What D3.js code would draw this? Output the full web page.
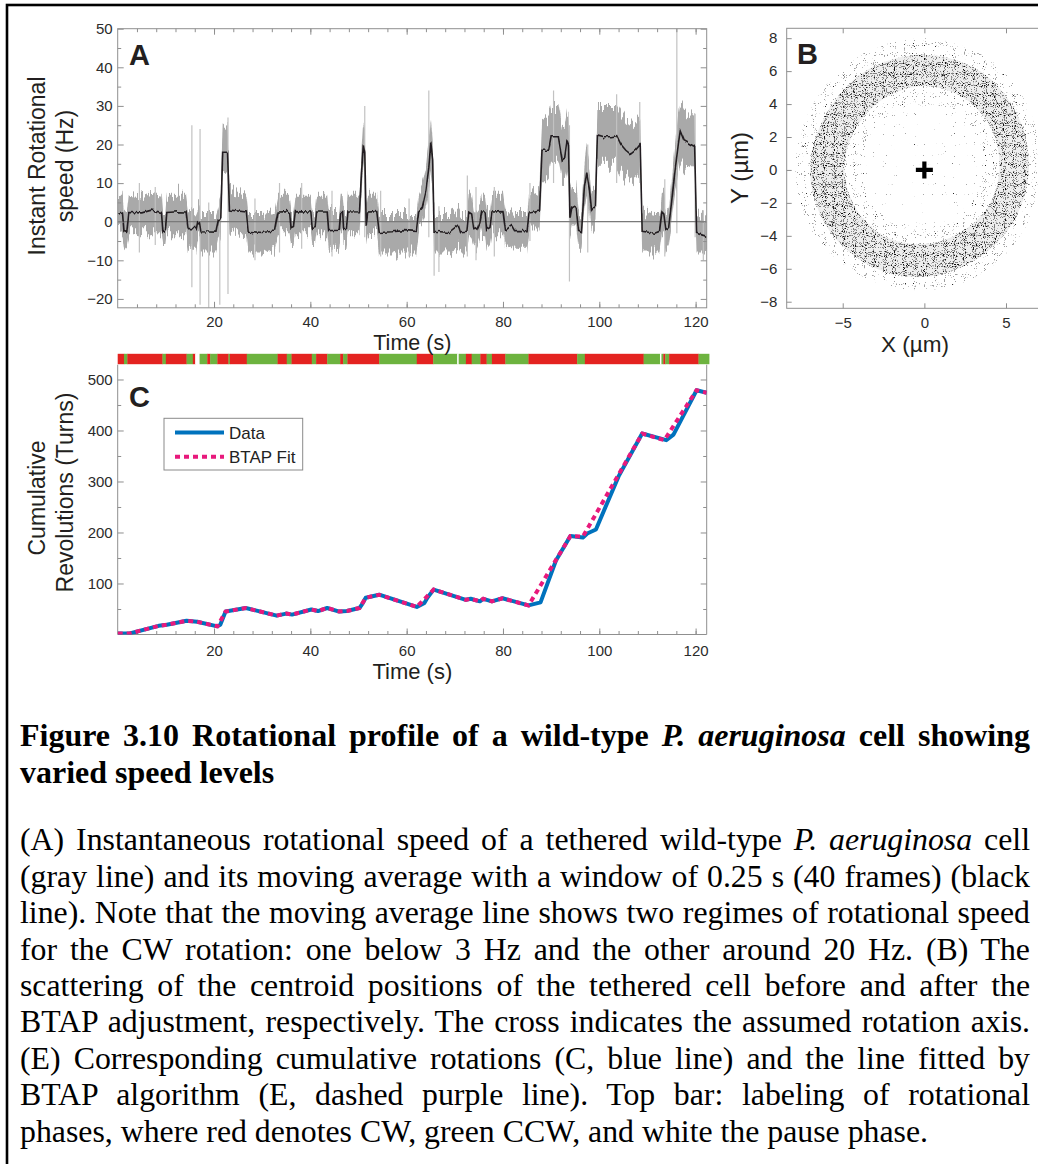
<!DOCTYPE html>
<html>
<head>
<meta charset="utf-8">
<script src="https://cdn.jsdelivr.net/npm/d3@7"></script>
<style>
html,body{margin:0;padding:0;background:#fff;}
#root{position:relative;width:1038px;height:1164px;overflow:hidden;background:#fff;}
#chart{position:absolute;left:0;top:0;}
.cap{position:absolute;left:20px;width:1010px;font-family:"Liberation Serif","Times New Roman",Times,serif;color:#000;white-space:nowrap;text-align:justify;text-align-last:justify;}
.cap.last{text-align-last:left;}
.cap.t{font-weight:bold;}
</style>
</head>
<body>
<div id="root"><svg id="chart" width="1038" height="1164"></svg></div>
<script>
// ================= DATA =================
// Panel A : instantaneous rotational speed (Hz) - moving average and gray raw envelope
const timeA = [0,1.0,1.3,1.9,2.3,5.0,7.0,9.1,9.4,9.9, 10.2,12.5,14.2,14.6,16.3,16.6,17.0,17.3,20.4,20.9, 21.4,21.8,22.8,23.2,26.7,27.1,30.0,32.6,33.3,35.7, 36.0,36.5,36.9,40.1,40.4,41.0,41.3,43.5,43.8,46.0, 46.3,46.7,46.9,47.5,47.8,50.2,50.6,51.0,51.3,51.6, 51.9,53.8,54.3,57.0,59.5,62.0,62.5,63.2,64.0,64.6, 65.0,65.4,65.7,69.0,70.8,71.2,72.5,72.9,73.5,73.9, 74.6,75.2,75.6,76.3,76.6,77.3,77.7,80.0,80.5,81.8, 82.4,85.0,85.4,87.6,88.1,89.5,90.0,91.5,92.3,92.8, 93.3,93.6,93.9,94.3,95.2,95.7,96.3,96.9,97.4,97.9, 98.4,99.2,99.6,101.0,102.5,103.6,104.5,105.5,106.5,107.5, 108.5,108.9,111.5,112.5,113.0,113.4,113.8,114.4,115.0,115.6, 116.4,116.8,117.6,119.0,119.8,120.2,122.3];
const speedAvg = [2.2,2.5,-2.3,-2.5,2.4,2.3,3.0,2.4,-2.5,-2.3, 2.4,2.6,2.5,-1.8,-1.8,0.2,0.0,-2.6,-2.7,0.3, 0.5,18.0,18.0,3.0,2.5,-2.5,-2.8,-2.4,2.5,2.6, -1.8,-1.5,2.6,2.5,-1.5,-1.3,2.5,2.5,-2.3,-2.2, 2.4,2.4,-2.0,-2.0,2.5,2.6,12,20,18,-1, 2.5,2.6,-2.8,-2.6,-2.3,-2.5,2.5,3.5,8.0,14.0, 20.5,16,-2.5,-2.8,-1.0,-2.6,-2.5,2.5,2.0,-1.5, -2.2,-0.5,2.5,2.5,-2.0,-1.5,2.5,2.6,-2.2,-1.0, -2.3,-2.3,2.5,3.0,18.5,18.5,22.0,22.0,16.0,16.5, 21.0,20.0,1.0,4.0,3.5,-2.5,-2.8,9.0,13.0,9.0, 3.0,4.0,22.5,22.0,22.0,22.3,20.0,18.5,17.5,18.5, 20.0,-2.5,-3.0,-2.5,2.5,2.0,-2.0,-1.5,5.0,12.0, 20.0,23.5,21.0,20.0,19.5,-3.0,-3.8];
const speedLo = [-2,-3,-6,-7,-3,-3,-3,-3,-6,-6, -3,-3,-3,-7,-7,-4,-4,-8,-8,-5, -3,12,11,-2,-3,-8,-8,-7,-3,-3, -6,-6,-3,-3,-6,-6,-3,-3,-7,-7, -3,-3,-6,-6,-3,-3,6,14,10,-6, -3,-3,-8,-8,-8,-8,-2,-1,3,8, 13,8,-8,-8,-7,-8,-8,-3,-3,-6, -7,-5,-3,-3,-7,-6,-3,-3,-7,-6, -7,-7,-2,-2,11,11,15,15,10,10, 14,12,-4,-1,-1,-7,-7,3,7,3, -2,-1,15,15,15,15,13,12,11,12, 13,-8,-8,-8,-3,-3,-7,-6,0,6, 13,16,14,13,12,-8,-8];
const speedHi = [7,7,3,2,7,6.5,7.5,7,2,2, 7,7,7,3,3,4,4,2,2,4, 8,26,25,8,7,2,2,2.5,7,7, 2.5,2.5,7,7,3,3,7,7,2.5,2.5, 7,7,2.5,2.5,7,7,18,26,24,4, 7,7,2,2,2,2,7,9,14,22, 28,22,2,2,3,2,2,8,7,3, 2,4,7,7,3,3,7,7,2,3, 2,2,7,8,26,27,30,30,24,24, 28,28,7,9,9,3,3,15,20,15, 8,9,30,30,30,30,28,26,25,26, 27,3,2,2,7,7,3,3,10,18, 28,31,29,28,27,2,1];
const spikeT  = [4.5,7.8,15.4,17.1,18.9,21.2,22.9,28.5,33.6,38.2, 44.5,51.3,54.6,60.5,64.6,65.7,66.7,72.6,74.4,78.2, 85.6,90.5,93.8,97.6,103.6,108.4,113.6,116.1,119.9,121.6];
const spikeLo = [-8,-6,-17,-21.5,-22.3,-21.5,-18.7,-10,-8,-7, -9,-4,-9,-9,-4,-14,-13,-9,-10,-9, -5,10,-15.5,-8,10,10,-9,-3,-4,-10];
const spikeHi = [10,9,25,24,5,6,27,6,10,10, 8,30,8,6,34,5,4,12,9,9, 10,34,25,20,33,31,11,50,28,3];
const ticksTime = [20,40,60,80,100,120];
const ticksSpeed = [-20,-10,0,10,20,30,40,50];

// Panel B : centroid scatter ring (radii in um, read per angle)
const ringAngle  = [0,30,60,90,120,150,180,210,240,270,300,330];
const cloudOuter = [7.0,7.4,7.8,8.0,8.0,7.9,7.9,7.8,7.5,7.3,7.2,7.1];
const bandOuter  = [6.4,6.6,6.9,7.0,7.0,6.9,7.0,6.9,6.7,6.5,6.3,6.3];
const bandInner  = [4.6,4.8,5.0,5.1,5.0,4.9,4.9,4.8,4.7,4.5,4.4,4.5];
const cloudInner = [3.6,3.8,4.0,4.0,4.0,3.9,3.9,3.8,3.7,3.6,3.5,3.5];
const ticksBx = [-5,0,5];
const ticksBy = [-8,-6,-4,-2,0,2,4,6,8];

// Phase bar
const phaseStart = [0,1.3,2.0,9.3,10.0,14.3,15.6,16.1,17.0,18.6, 19.2,20.7,23.0,23.3,26.8,33.2,35.1,36.1,40.3,41.2, 43.5,46.2,46.8,47.7,54.3,62.1,65.5,70.5,70.8,72.3, 73.5,75.3,76.6,77.7,80.5,85.3,95.4,97.0,109.2,112.6, 112.9,113.3,113.7,114.5,120.6];
const phaseEnd   = [1.3,2.0,9.3,10.0,14.3,15.6,16.1,17.0,18.6,19.2, 20.7,23.0,23.3,26.8,33.2,35.1,36.1,40.3,41.2,43.5, 46.2,46.8,47.7,54.3,62.1,65.5,70.5,70.8,72.3,73.5, 75.3,76.6,77.7,80.5,85.3,95.4,97.0,109.2,112.6,112.9, 113.3,113.7,114.5,120.6,122.8];
const phaseState = ["CW","CCW","CW","CCW","CW","CCW","CW","pause","CCW","CW", "CCW","CW","CCW","CW","CCW","CW","CCW","CW","CCW","CW", "CCW","CW","CCW","CW","CCW","CW","CCW","pause","CCW","CW", "CCW","CW","CCW","CW","CCW","CW","CCW","CW","CCW","pause", "CCW","CW","CCW","CW","CCW"];

// Panel C : cumulative revolutions
const timeC   = [0,2.5,8.5,10.2,14.3,16.5,20.7,21.3,22.4,26.6, 33.0,35.0,36.2,40.2,41.6,43.5,46.0,47.6,50.2,50.8, 51.5,54.3,62.1,63.7,64.3,65.6,72.3,73.3,75.2,75.9, 77.7,79.9,85.3,87.8,91.0,94.0,96.6,97.5,99.3,104.0, 108.9,113.9,115.4,120.2,122.3];
const cumData = [2,2,17,19,27,25,16,19,45,52, 37,41,39,49,46,52,45,46,52,60, 72,78,54,62,72,88,68,70,65,70, 65,71,57,63,145,193,190,198,206,310, 394,381,392,479,474];
const timeFit = [0,2.5,8.5,10.2,14.3,16.5,20.7,22.4,26.6,33.0, 35.0,36.2,40.2,41.6,43.5,46.0,47.6,50.2,51.5,54.3, 62.1,65.6,72.3,73.3,75.2,75.9,77.7,79.9,85.3,94.0, 96.6,108.9,113.5,120.2,122.3];
const cumFit  = [2,2,17,19,27,25,16,45,52,37, 41,39,49,46,52,45,46,52,72,78, 54,88,68,70,65,70,65,71,57,193, 192,394,381,479,474];
const ticksCum = [100,200,300,400,500];
const legendLabels = ["Data","BTAP Fit"];

// Caption
const captionTitle = ['Figure 3.10 Rotational profile of a wild-type <i>P. aeruginosa</i> cell showing','varied speed levels'];
const captionBody = [
 '(A) Instantaneous rotational speed of a tethered wild-type <i>P. aeruginosa</i> cell',
 '(gray line) and its moving average with a window of 0.25 s (40 frames) (black',
 'line). Note that the moving average line shows two regimes of rotational speed',
 'for the CW rotation: one below 3 Hz and the other around 20 Hz. (B) The',
 'scattering of the centroid positions of the tethered cell before and after the',
 'BTAP adjustment, respectively. The cross indicates the assumed rotation axis.',
 '(E) Corresponding cumulative rotations (C, blue line) and the line fitted by',
 'BTAP algorithm (E, dashed purple line). Top bar: labeling of rotational',
 'phases, where red denotes CW, green CCW, and white the pause phase.'];

// ================= DRAWING =================
const svg = d3.select('#chart');
const defs = svg.append('defs');
const AX = '#8f8f8f', TXT = '#2b2b2b', FONT = '"Liberation Sans", Arial, sans-serif';

svg.append('rect').attr('x',7).attr('y',5).attr('width',1200).attr('height',1300)
  .attr('fill','none').attr('stroke','#000').attr('stroke-width',2.6);

function styleAxis(g, noText){
  g.attr('font-family', FONT).attr('font-size', 15);
  g.select('.domain').remove();
  g.selectAll('.tick line').attr('stroke', AX).attr('stroke-width', 1);
  g.selectAll('.tick text').attr('fill', TXT);
  if (noText) g.selectAll('.tick text').remove();
}
function axisSet(gParent, axisFn, scale, transform, major, minor, majL, minL, pad, labels){
  gParent.append('g').attr('transform', transform)
    .call(axisFn(scale).tickValues(minor).tickSize(-minL).tickSizeOuter(0).tickFormat(''))
    .call(g => styleAxis(g, true));
  const a = axisFn(scale).tickValues(major).tickSize(-majL).tickSizeOuter(0).tickPadding(pad);
  gParent.append('g').attr('transform', transform).call(a).call(g => styleAxis(g, !labels));
}

// ---------- Panel A ----------
const xA = d3.scaleLinear().domain([0,122.3]).range([117.7,706.7]);
const yA = d3.scaleLinear().domain([-22.3,50]).range([307.8,28.7]);
const gA = svg.append('g');
defs.append('clipPath').attr('id','clipA').append('rect')
  .attr('x',117.7).attr('y',28.7).attr('width',589).attr('height',279.1);

// roughness filters (texture only)
function roughFilter(id, freq, scale, seed){
  const f = defs.append('filter').attr('id', id).attr('filterUnits','userSpaceOnUse')
    .attr('x',100).attr('y',10).attr('width',630).attr('height',320);
  f.append('feTurbulence').attr('type','fractalNoise').attr('baseFrequency',freq)
    .attr('numOctaves',2).attr('seed',seed).attr('result','t');
  f.append('feColorMatrix').attr('in','t').attr('type','matrix')
    .attr('values','0 0 0 0 0.5  0 1 0 0 0  0 0 1 0 0  0 0 0 0 1').attr('result','t2');
  f.append('feDisplacementMap').attr('in','SourceGraphic').attr('in2','t2')
    .attr('scale',scale).attr('xChannelSelector','R').attr('yChannelSelector','G');
}
roughFilter('roughBand','0.55 0.02',30,3);
roughFilter('roughLine','0.35 0.02',6,8);

const plotA = gA.append('g').attr('clip-path','url(#clipA)');
const idxA = d3.range(timeA.length);
plotA.append('path').attr('d', d3.area().x(i=>xA(timeA[i])).y0(i=>yA(speedLo[i])).y1(i=>yA(speedHi[i]))(idxA))
  .attr('fill','#a9a9a9').attr('filter','url(#roughBand)');
plotA.selectAll('line.spike').data(d3.range(spikeT.length)).join('line').attr('class','spike')
  .attr('x1',i=>xA(spikeT[i])).attr('x2',i=>xA(spikeT[i]))
  .attr('y1',i=>yA(spikeLo[i])).attr('y2',i=>yA(spikeHi[i]))
  .attr('stroke','#c2c2c2').attr('stroke-width',1.2);
plotA.append('line').attr('x1',xA(0)).attr('x2',xA(122.3)).attr('y1',yA(0)).attr('y2',yA(0))
  .attr('stroke','#7a7a7a').attr('stroke-width',1.2);
plotA.append('path').attr('d', d3.line().x(i=>xA(timeA[i])).y(i=>yA(speedAvg[i]))(idxA))
  .attr('fill','none').attr('stroke','#231f20').attr('stroke-width',1.6).attr('filter','url(#roughLine)');

gA.append('rect').attr('x',117.7).attr('y',28.7).attr('width',589).attr('height',279.1)
  .attr('fill','none').attr('stroke',AX).attr('stroke-width',1);
const minorT = d3.range(4,122,4);
const minorS = [-15,-5,5,15,25,35,45];
axisSet(gA, d3.axisBottom, xA, 'translate(0,307.8)', ticksTime, minorT, 6, 3.5, 8.5, true);
axisSet(gA, d3.axisTop, xA, 'translate(0,28.7)', ticksTime, minorT, 6, 3.5, 3, false);
axisSet(gA, d3.axisLeft, yA, 'translate(117.7,0)', ticksSpeed, minorS, 6, 3.5, 5, true);
axisSet(gA, d3.axisRight, yA, 'translate(706.7,0)', ticksSpeed, minorS, 6, 3.5, 3, false);

// ---------- Panel B ----------
const xB = d3.scaleLinear().domain([-8.43,7.5]).range([786.7, 786.7 + 15.93*16.33]);
const yB = d3.scaleLinear().domain([-8.4,8.6]).range([308.3,28.3]);
const gB = svg.append('g');
function ringD(radii){
  return d3.line().curve(d3.curveCardinalClosed.tension(0))(ringAngle.map((a,i)=>{
    const r = radii[i], t = a*Math.PI/180;
    return [xB(r*Math.cos(t)), yB(r*Math.sin(t))];
  }));
}
function clipRing(id, outer, inner){
  defs.append('clipPath').attr('id',id).append('path')
    .attr('d', ringD(outer) + (inner ? ringD(inner) : '')).attr('clip-rule','evenodd');
}
clipRing('clipCloud', cloudOuter, null);
clipRing('clipFringe', cloudOuter, cloudInner);
clipRing('clipBand', bandOuter, bandInner);
function dotFilter(id, seed, thr, rgb){
  const f = defs.append('filter').attr('id',id).attr('filterUnits','userSpaceOnUse')
    .attr('x',780).attr('y',20).attr('width',270).attr('height',300)
    .attr('color-interpolation-filters','sRGB');
  f.append('feTurbulence').attr('type','fractalNoise').attr('baseFrequency',0.9)
    .attr('numOctaves',1).attr('seed',seed).attr('result','n');
  const k = 30;
  f.append('feColorMatrix').attr('in','n').attr('type','matrix')
    .attr('values', `0 0 0 0 ${rgb[0]}  0 0 0 0 ${rgb[1]}  0 0 0 0 ${rgb[2]}  ${-k} 0 0 0 ${k*thr}`);
}
dotFilter('dSparseGray', 11, 0.27, [0.66,0.66,0.66]);
dotFilter('dSparseBlack', 12, 0.22, [0.15,0.15,0.15]);
dotFilter('dFringeGray', 13, 0.34, [0.62,0.62,0.62]);
dotFilter('dFringeBlack', 14, 0.27, [0.18,0.18,0.18]);
dotFilter('dBandGray', 15, 0.43, [0.5,0.5,0.5]);
dotFilter('dBandBlack', 16, 0.335, [0.06,0.06,0.06]);
function dotLayer(clip, filters, base){
  const g = gB.append('g').attr('clip-path',`url(#${clip})`);
  if (base) g.append('rect').attr('x',780).attr('y',20).attr('width',270).attr('height',300).attr('fill',base[0]).attr('opacity',base[1]);
  filters.forEach(f => g.append('rect').attr('x',780).attr('y',20).attr('width',270).attr('height',300).attr('filter',`url(#${f})`));
}
dotLayer('clipCloud', ['dSparseGray','dSparseBlack']);
dotLayer('clipFringe', ['dFringeGray','dFringeBlack']);
dotLayer('clipBand', ['dBandGray','dBandBlack'], ['#c8c8c8',0.3]);
// rotation axis cross
gB.append('path').attr('d', `M${xB(0)-8.5},${yB(0)}H${xB(0)+8.5}M${xB(0)},${yB(0)-8.5}V${yB(0)+8.5}`)
  .attr('stroke','#000').attr('stroke-width',4.2);
gB.append('rect').attr('x',786.7).attr('y',28.3).attr('width',300).attr('height',280)
  .attr('fill','none').attr('stroke',AX).attr('stroke-width',1);
axisSet(gB, d3.axisBottom, xB, 'translate(0,308.3)', ticksBx, [], 5, 3, 9.5, true);
axisSet(gB, d3.axisTop, xB, 'translate(0,28.3)', ticksBx, [], 5, 3, 3, false);
axisSet(gB, d3.axisLeft, yB, 'translate(786.7,0)', ticksBy, [], 5, 3, 9.4, true);

// ---------- Phase bar + Panel C ----------
const xC = d3.scaleLinear().domain([0,122.3]).range([117.7,706.7]);
const yC = d3.scaleLinear().domain([0,529]).range([634.5,364.7]);
const gC = svg.append('g');
const phaseColor = {CW:'#e42320', CCW:'#6db33f', pause:'#ffffff'};
gC.selectAll('rect.phase').data(d3.range(phaseStart.length)).join('rect').attr('class','phase')
  .attr('x',i=>xC(phaseStart[i])).attr('width',i=>Math.max(0.5, xC(phaseEnd[i])-xC(phaseStart[i])+0.3))
  .attr('y',353.8).attr('height',10.4).attr('fill',i=>phaseColor[phaseState[i]]);

defs.append('clipPath').attr('id','clipC').append('rect')
  .attr('x',117.7).attr('y',364.7).attr('width',589).attr('height',269.8);
gC.append('path').attr('d',`M117.7,364.7V634.5H706.7V364.7`).attr('fill','none').attr('stroke',AX).attr('stroke-width',1);
const minorC = [50,150,250,350,450];
axisSet(gC, d3.axisBottom, xC, 'translate(0,634.5)', ticksTime, minorT, 6, 3.5, 10.5, true);
axisSet(gC, d3.axisLeft, yC, 'translate(117.7,0)', ticksCum, minorC, 6, 3.5, 5, true);
axisSet(gC, d3.axisRight, yC, 'translate(706.7,0)', ticksCum, minorC, 6, 3.5, 3, false);

const plotC = gC.append('g').attr('clip-path','url(#clipC)');
plotC.append('path').attr('d', d3.line().x(i=>xC(timeC[i])).y(i=>yC(cumData[i]))(d3.range(timeC.length)))
  .attr('fill','none').attr('stroke','#0072bd').attr('stroke-width',4).attr('stroke-linejoin','round');
plotC.append('path').attr('d', d3.line().x(i=>xC(timeFit[i])).y(i=>yC(cumFit[i]))(d3.range(timeFit.length)))
  .attr('fill','none').attr('stroke','#e8197c').attr('stroke-width',4).attr('stroke-dasharray','5,4');

// legend
const lg = gC.append('g');
lg.append('rect').attr('x',164).attr('y',418.3).attr('width',138.7).attr('height',51.7)
  .attr('fill','#fff').attr('stroke','#8a8a8a').attr('stroke-width',1);
lg.append('line').attr('x1',175).attr('x2',224).attr('y1',432.5).attr('y2',432.5)
  .attr('stroke','#0072bd').attr('stroke-width',4);
lg.append('line').attr('x1',175).attr('x2',224).attr('y1',456.7).attr('y2',456.7)
  .attr('stroke','#e8197c').attr('stroke-width',4).attr('stroke-dasharray','5,4');
lg.selectAll('text').data(legendLabels).join('text')
  .attr('x',229).attr('y',(d,i)=> i ? 462.8 : 438.6)
  .attr('font-family',FONT).attr('font-size',17).attr('fill','#222').text(d=>d);

// ---------- Labels ----------
function label(x,y,txt,size,opts={}){
  const t = svg.append('text').attr('font-family',FONT).attr('font-size',size).attr('fill',opts.fill||'#231f20')
    .attr('text-anchor',opts.anchor||'middle')
    .attr('transform',`translate(${x},${y})` + (opts.rot ? ' rotate(-90)' : '')).text(txt);
  if (opts.bold) t.attr('font-weight','bold');
  return t;
}
label(129,65,'A',29,{bold:true,anchor:'start'});
label(797,63.5,'B',29,{bold:true,anchor:'start'});
label(129,406.5,'C',29,{bold:true,anchor:'start'});
label(412.3,350,'Time (s)',21.5);
label(412.3,678.5,'Time (s)',22);
label(45,166,'Instant Rotational',23,{rot:true});
label(73,166,'speed (Hz)',23,{rot:true});
label(45,498,'Cumulative',23,{rot:true});
label(73,492.5,'Revolutions (Turns)',23,{rot:true});
label(915,352,'X (\u00b5m)',22.5);
label(748,168,'Y (\u00b5m)',24,{rot:true});

// ---------- Caption ----------
const root = d3.select('#root');
const tSize = 32, bSize = 31.8;
const titleBase0 = 746, titleGap = 36.4, bodyBase0 = 851, bodyGap = 36.4;
captionTitle.forEach((h,i)=>{
  root.append('div').attr('class','cap t' + (i===captionTitle.length-1 ? ' last' : ''))
    .style('font-size',tSize+'px').style('line-height',tSize+'px')
    .style('top',(titleBase0 + i*titleGap - 0.8375*tSize)+'px').html(h);
});
captionBody.forEach((h,i)=>{
  root.append('div').attr('class','cap' + (i===captionBody.length-1 ? ' last' : ''))
    .style('font-size',bSize+'px').style('line-height',bSize+'px')
    .style('top',(bodyBase0 + i*bodyGap - 0.8375*bSize)+'px').html(h);
});
</script>
</body>
</html>
